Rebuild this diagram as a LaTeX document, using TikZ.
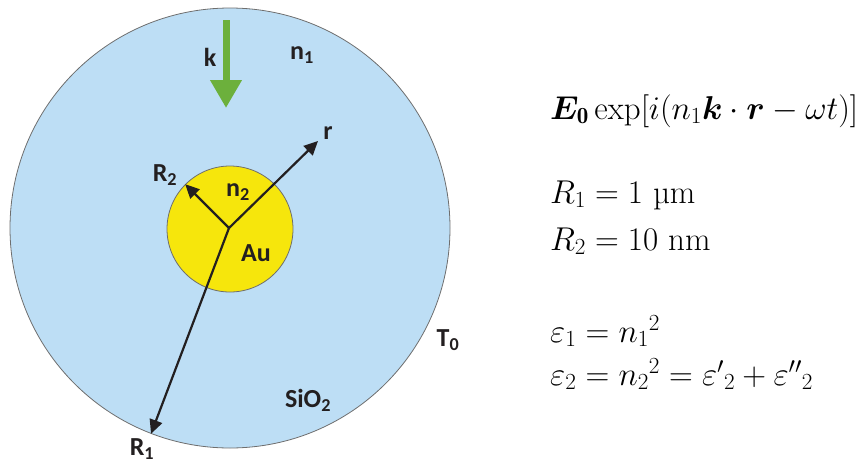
\RequirePackage{fix-cm}
\documentclass[tikz,border=0pt]{standalone}
\usepackage{amsmath}
\usepackage{bm}
\usepackage{fontspec}
\newfontfamily\lblfont{Carlito}
\usetikzlibrary{arrows.meta}
\definecolor{sBlue}{RGB}{189,222,245}
\definecolor{sGold}{RGB}{246,230,12}
\definecolor{sGreen}{RGB}{108,176,60}
\definecolor{sInk}{RGB}{35,31,32}
\definecolor{sEdge}{RGB}{110,110,110}
\tikzset{
  shell/.style={circle, draw=sEdge, fill=sBlue, line width=0.8pt,
                minimum size=440pt, inner sep=0pt},
  core/.style={circle, draw=sEdge, fill=sGold, line width=0.8pt,
               minimum size=126pt, inner sep=0pt},
  rad/.style={-{Triangle[length=14pt, width=13pt]}, draw=sInk, line width=2.2pt},
  wave/.style={-{Triangle[length=28pt, width=30pt]}, draw=sGreen, line width=7pt},
  lbl/.style={font=\fontsize{26}{28}\selectfont\lblfont\bfseries, text=sInk,
              inner sep=0pt},
  eqn/.style={anchor=base west, font=\fontsize{33}{36}\selectfont, inner sep=0pt},
}

\begin{document}
\begin{tikzpicture}[x=1pt, y=-1pt]
  \useasboundingbox (0,0) rectangle (861,464);
  % particle in its shell
  \node[shell] (outer) at (230,228) {};
  \node[core] (inner) at (230,229) {};
  \coordinate (ctr) at (229,228);
  \coordinate (rtip) at (318,141);
  \coordinate (wtop) at (226,20);
  \coordinate (wtip) at (226,108);

  % radii and incident wave
  \draw[rad] (ctr) -- (inner.135);
  \draw[rad] (ctr) -- (rtip);
  \draw[rad] (ctr) -- (outer.249);
  \draw[wave] (wtop) -- (wtip);

  \node[lbl] (kLbl) at (210,57) {k};
  \node[lbl] (n1Lbl) at (302,55) {n\textsubscript{1}};
  \node[lbl] (rLbl) at (328,133) {r};
  \node[lbl] (R2Lbl) at (165,175) {R\textsubscript{2}};
  \node[lbl] (n2Lbl) at (238,192) {n\textsubscript{2}};
  \node[lbl] (auLbl) at (256,253) {Au};
  \node[lbl] (T0Lbl) at (448,340) {T\textsubscript{0}};
  \node[lbl] (sioLbl) at (308,400) {SiO\textsubscript{2}};
  \node[lbl] (R1Lbl) at (142,449) {R\textsubscript{1}};

  % field and parameters
  \node[eqn] (field) at (550,119)
    {$\bm{E}_{\mathbf{0}}\exp[i(n_1\bm{k}\cdot\bm{r}-\omega t)]$};
  \node[eqn] (rOne) at (550,203) {$R_1 = 1~\text{µm}$};
  \node[eqn] (rTwo) at (550,250) {$R_2 = 10~\text{nm}$};
  \node[eqn] (epsOne) at (550,342) {$\varepsilon_1 = {n_1}^2$};
  \node[eqn] (epsTwo) at (550,385)
    {$\varepsilon_2 = {n_2}^2 = \varepsilon'{}_2 + \varepsilon''{}_2$};
\end{tikzpicture}
\end{document}
